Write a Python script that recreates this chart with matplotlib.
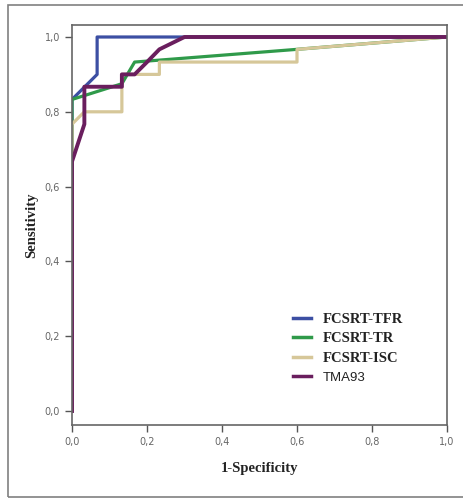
import matplotlib.pyplot as plt
from matplotlib.patches import Rectangle
from matplotlib.lines import Line2D

# ROC curves (1-specificity, sensitivity)
tfr_x = [0, 0, 0.067, 0.067, 1.0]
tfr_y = [0, 0.833, 0.9, 1.0, 1.0]

tr_x = [0, 0, 0.133, 0.167, 0.6, 1.0]
tr_y = [0, 0.833, 0.875, 0.933, 0.967, 1.0]

isc_x = [0, 0, 0.033, 0.133, 0.133, 0.233, 0.233, 0.6, 0.6, 1.0]
isc_y = [0, 0.767, 0.8, 0.8, 0.9, 0.9, 0.933, 0.933, 0.967, 1.0]

tma_x = [0, 0, 0.033, 0.033, 0.133, 0.133, 0.167, 0.2, 0.233, 0.3, 1.0]
tma_y = [0, 0.667, 0.767, 0.867, 0.867, 0.9, 0.9, 0.933, 0.967, 1.0, 1.0]

labels = ['FCSRT-TFR', 'FCSRT-TR', 'FCSRT-ISC', 'TMA93']
colors = ['#3c4fa3', '#2f9a4a', '#d6c799', '#6a1e5e']
ticks = [0.0, 0.2, 0.4, 0.6, 0.8, 1.0]
tick_labels = ['0,0', '0,2', '0,4', '0,6', '0,8', '1,0']

if __name__ == "__main__":
    fig = plt.figure(figsize=(4.63, 5.01), dpi=100)
    # outer grey frame
    fig.patches.append(Rectangle((8 / 463, 1 - 497 / 501), 470 / 463, 492 / 501,
                                 transform=fig.transFigure, fill=False,
                                 edgecolor='#808080', lw=1.2))
    ax = fig.add_axes([72 / 463, 1 - 425 / 501, 375 / 463, 400 / 501])

    ax.plot(tfr_x, tfr_y, color=colors[0], lw=2.3)
    ax.plot(tr_x, tr_y, color=colors[1], lw=2.3)
    ax.plot(isc_x, isc_y, color=colors[2], lw=2.3)
    ax.plot(tma_x, tma_y, color=colors[3], lw=2.8)

    ax.set_xlim(0, 1)
    ax.set_ylim(-14 / 374, 1 + 12 / 374)
    ax.set_xticks(ticks)
    ax.set_xticklabels(tick_labels)
    ax.set_yticks(ticks)
    ax.set_yticklabels(tick_labels)
    ax.tick_params(direction='out', length=5, width=1, colors='#555555',
                   labelsize=7, labelcolor='#666666')
    for s in ax.spines.values():
        s.set_color('#666666')
        s.set_linewidth(1.2)

    ax.set_xlabel('1-Specificity', family='Liberation Serif', weight='bold',
                  fontsize=10.5, color='#222222', labelpad=11)
    ax.set_ylabel('Sensitivity', family='Liberation Serif', weight='bold',
                  fontsize=10.5, color='#222222', labelpad=5)

    handles = [Line2D([], [], color=c, lw=2.5) for c in colors]
    leg = ax.legend(handles, labels, frameon=False, loc='upper left',
                    bbox_to_anchor=(0.555, 0.313), handlelength=1.2,
                    handletextpad=0.8, labelspacing=0.42,
                    prop={'family': 'Liberation Serif', 'weight': 'bold', 'size': 10.5})
    for t in leg.get_texts():
        t.set_color('#222222')
    leg.get_texts()[3].set_family('Liberation Sans')
    leg.get_texts()[3].set_weight('normal')
    leg.get_texts()[3].set_fontsize(9.5)

    plt.savefig('out.png', dpi=100)
